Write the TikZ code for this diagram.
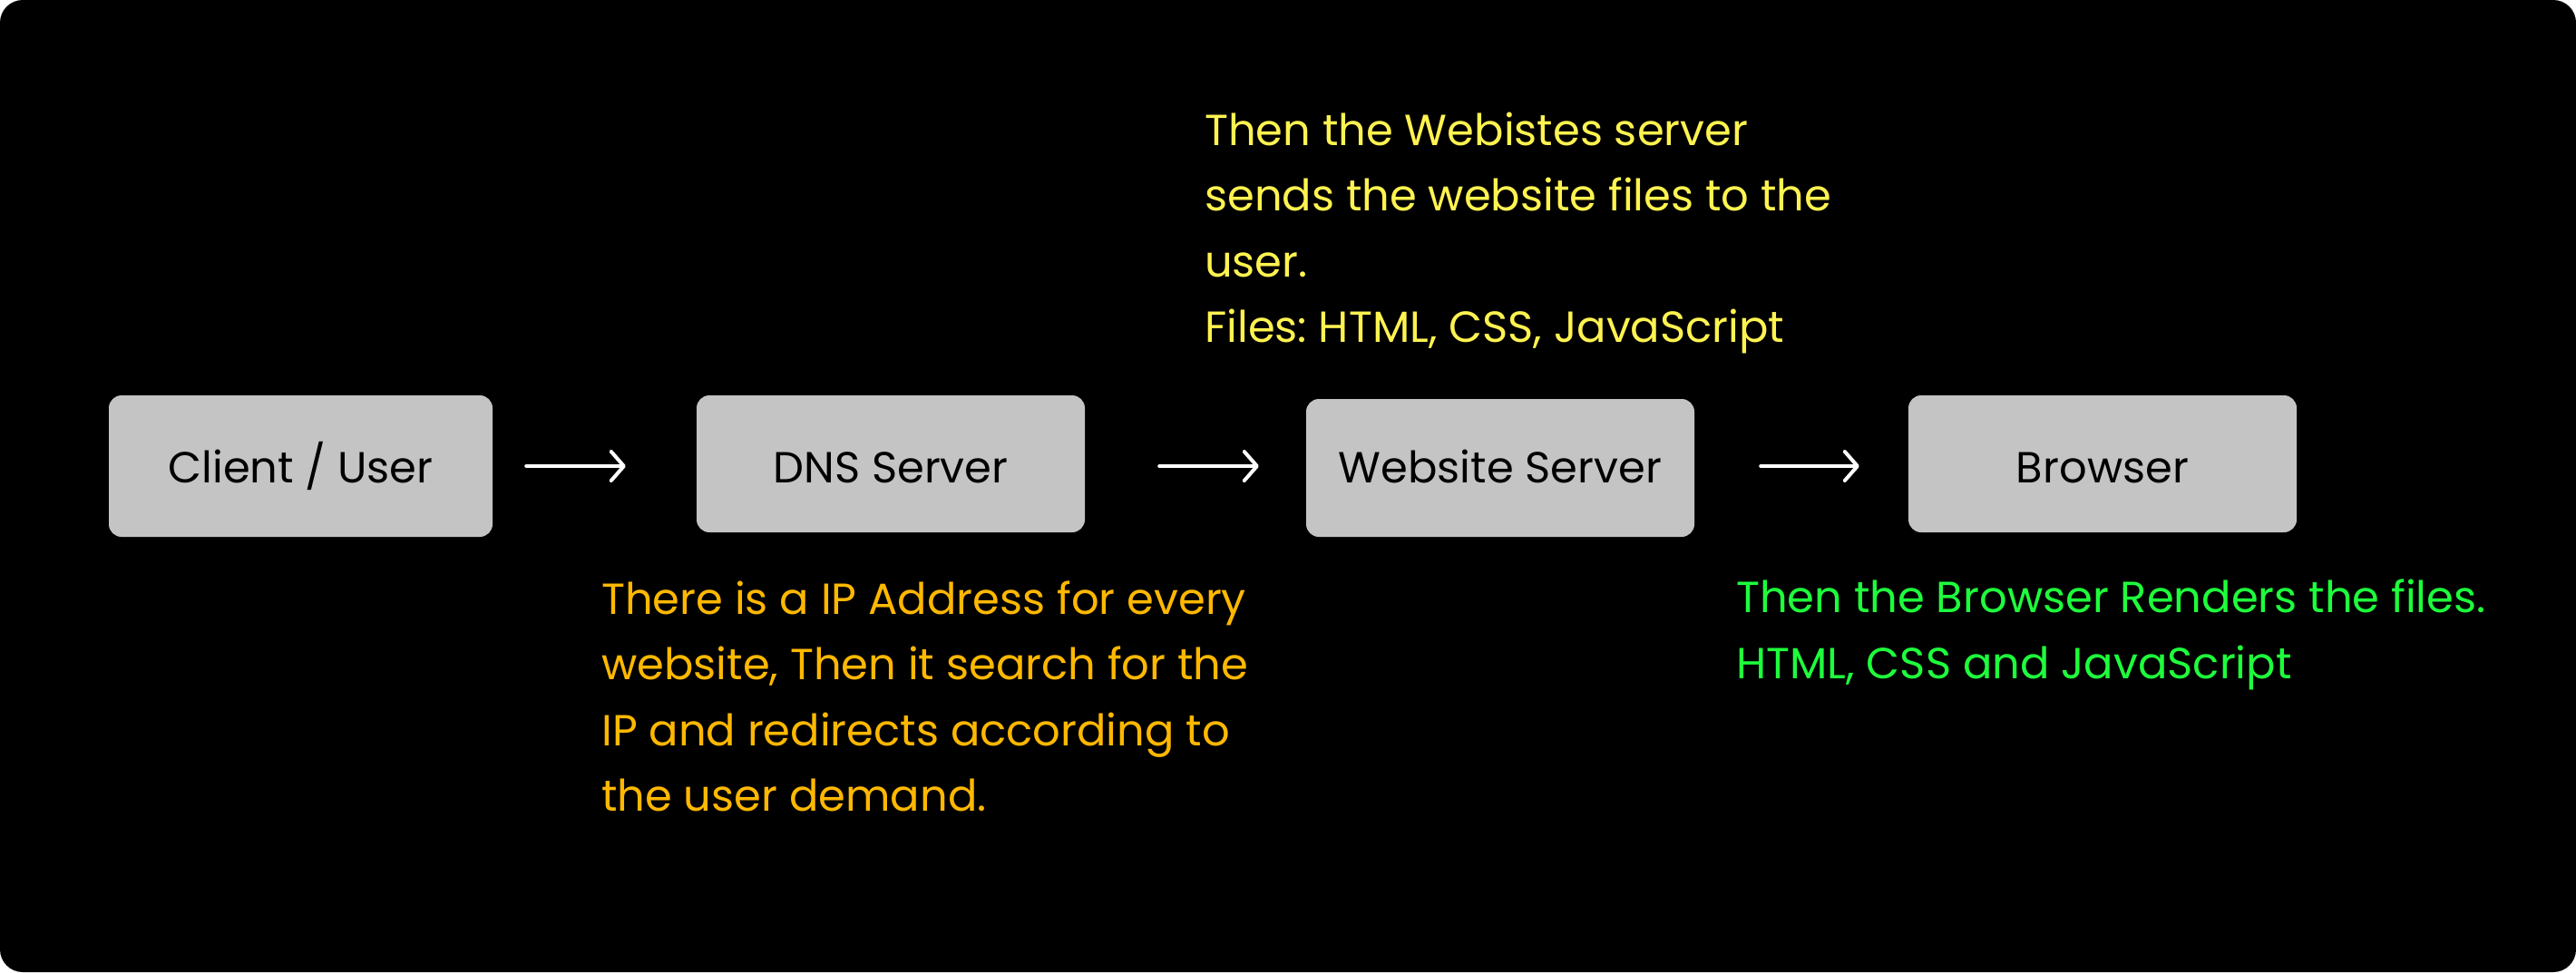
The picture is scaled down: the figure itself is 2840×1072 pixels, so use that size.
\documentclass[tikz,border=0pt]{standalone}
\usepackage{fontspec}
\setmainfont{Poppins}
\usetikzlibrary{arrows.meta}
\definecolor{boxgray}{HTML}{C4C4C4}
\definecolor{ylw}{HTML}{FFF350}
\definecolor{org}{HTML}{FFB800}
\definecolor{grn}{HTML}{1EFF3C}
\tikzset{
  stepbox/.style={fill=boxgray, rounded corners=14pt, minimum height=151pt, inner sep=0pt, text depth=0pt, font=\fontsize{48}{58}\selectfont, text=black},
  flow/.style={draw=white, line width=4pt, line cap=round, -{Straight Barb[length=14pt,width=32pt,round]}},
  note/.style={anchor=west, inner sep=0pt, align=left, font=\fontsize{48}{72.4}\selectfont}
}
\begin{document}
\frenchspacing
\begin{tikzpicture}[x=1pt,y=-1pt]
\useasboundingbox (0,0) rectangle (2840,1072);
\fill[white] (0,0) rectangle (2840,1072);
\fill[black, rounded corners=25pt] (0,0) rectangle (2840,1072);
\node[stepbox, minimum width=423pt, minimum height=156pt, text height=36pt] (b1) at (331.5,514) {Client / User};
\node[stepbox, minimum width=428pt, text height=41pt] (b2) at (982,511.5) {DNS Server};
\node[stepbox, minimum width=428pt, minimum height=152pt, text height=32pt] (b3) at (1654,516) {Website Server};
\node[stepbox, minimum width=428pt, text height=41pt] (b4) at (2318,511.5) {Browser};
\coordinate (ay) at (0,514);
\draw[flow] ([xshift=37pt]b1.east |- ay) -- ([xshift=-78pt]b2.west |- ay);
\draw[flow] ([xshift=82pt]b2.east |- ay) -- ([xshift=-52pt]b3.west |- ay);
\draw[flow] ([xshift=73pt]b3.east |- ay) -- ([xshift=-54pt]b4.west |- ay);
\node[note, text=ylw] (n3) at (1328,257) {Then the Webistes server\\sends the website files to the\\user.\\Files: HTML, CSS, JavaScript};
\node[note, text=org] (n2) at (663,768) {There is a IP Address for every\\website, Then it search for the\\IP and redirects according to\\the user demand.};
\node[note, text=grn] (n4) at (1914,700) {Then the Browser Renders the files.\\HTML, CSS and JavaScript};
\end{tikzpicture}
\end{document}
